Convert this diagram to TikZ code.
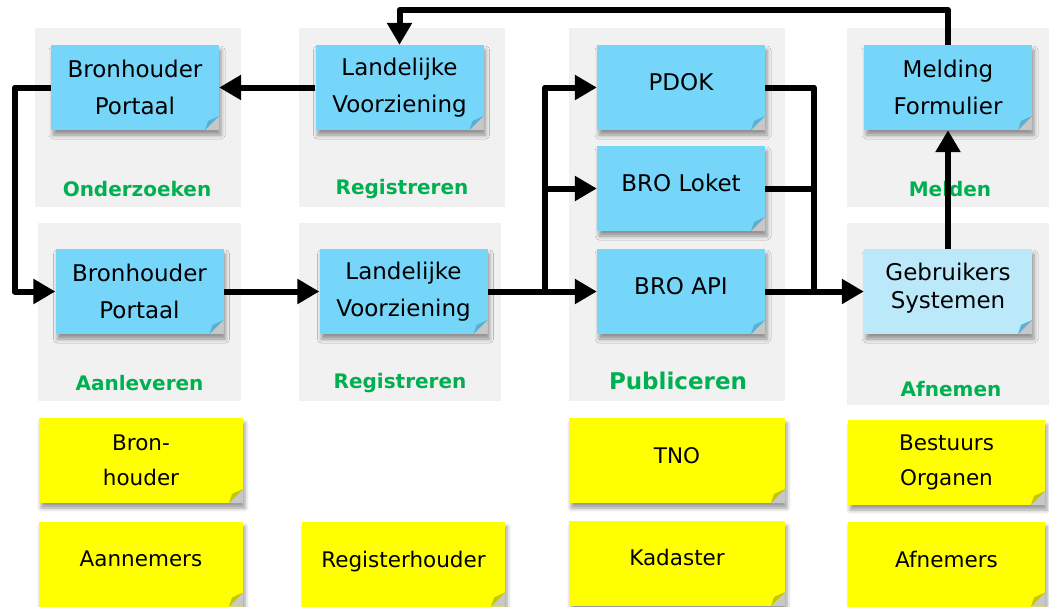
\documentclass[tikz,border=0pt]{standalone}
\usepackage{fontspec}
\setmainfont{DejaVu Sans}
\usetikzlibrary{arrows.meta,shadows.blur}
\definecolor{noteblue}{HTML}{76D6FA}
\definecolor{notelight}{HTML}{BCE9FA}
\definecolor{foldblue}{HTML}{5AAFD2}
\definecolor{noteyellow}{HTML}{FFFF00}
\definecolor{foldyellow}{HTML}{C4C400}
\definecolor{panelgray}{HTML}{F1F1F1}
\definecolor{phasegreen}{HTML}{00B050}

\begin{document}
\begin{tikzpicture}[x=1pt, y=-1pt,
        panel/.style={fill=panelgray, inner sep=0pt},
        dogear/.style={path picture={
            \fill[black!22] ([xshift=-14pt]path picture bounding box.south east)
                -- (path picture bounding box.south east)
                -- ([yshift=14pt]path picture bounding box.south east) -- cycle;
            \fill[#1] ([xshift=-14pt]path picture bounding box.south east)
                -- ([yshift=14pt]path picture bounding box.south east)
                -- ([xshift=-11pt,yshift=9pt]path picture bounding box.south east) -- cycle;}},
        note/.style={minimum width=168pt, minimum height=85pt, inner sep=0pt,
            align=center, fill=noteblue, font=\fontsize{23}{37}\selectfont,
            blur shadow={shadow xshift=2pt, shadow yshift=-5pt, shadow blur radius=4pt,
                shadow opacity=40},
            dogear=foldblue},
        sticky/.style={note, fill=noteyellow, dogear=foldyellow,
            font=\fontsize{21.5}{35}\selectfont},
        phase/.style={text=phasegreen, font=\bfseries\fontsize{20}{24}\selectfont},
        conn/.style={line width=6pt, line join=round},
        >={Triangle[length=22pt,width=24pt]}]

    \useasboundingbox (0,0) rectangle (1049,606);

    \node[panel, minimum width=206pt, minimum height=179pt] (P1) at (138,117.5) {};
    \node[panel, minimum width=206pt, minimum height=179pt] (P2) at (402,117.5) {};
    \node[panel, minimum width=203pt, minimum height=178pt] (P3) at (139.5,312) {};
    \node[panel, minimum width=202pt, minimum height=178pt] (P4) at (400,312) {};
    \node[panel, minimum width=216pt, minimum height=373pt] (P5) at (677,214.5) {};
    \node[panel, minimum width=204pt, minimum height=179pt] (P6) at (949,117.5) {};
    \node[panel, minimum width=204pt, minimum height=182pt] (P7) at (949,314) {};

    \node[phase] (L1) at (137,189) {Onderzoeken};
    \node[phase] (L2) at (402,189) {Registreren};
    \node[phase] (L3) at (139.5,383) {Aanleveren};
    \node[phase] (L4) at (400,383) {Registreren};
    \node[phase, font=\bfseries\fontsize{23}{27}\selectfont] (L5) at (678,381) {Publiceren};
    \node[phase] (L6) at (950,189) {Melden};
    \node[phase] (L7) at (951,389) {Afnemen};

    \node[note] (BP1) at (135,87.5) {Bronhouder\\Portaal};
    \node[note] (LV1) at (399.5,87.5) {Landelijke\\Voorziening};
    \node[note] (BP2) at (139.5,291.5) {Bronhouder\\Portaal};
    \node[note] (LV2) at (403.5,291.5) {Landelijke\\Voorziening};
    \node[note, text depth=12pt] (PD) at (681,87.5) {PDOK};
    \node[note, text depth=12pt] (BL) [below of=PD, node distance=101pt] {BRO Loket};
    \node[note, text depth=12pt] (BA) [below of=BL, node distance=103pt] {BRO API};
    \node[note] (MF) at (948,87.5) {Melding\\Formulier};
    \node[note, fill=notelight, text depth=12pt] (GS) at (948,291.5) {Gebruikers\\[-9pt]Systemen};

    \node[sticky, minimum width=204pt] (Y1) at (141,460.5) {Bron-\\houder};
    \node[sticky, minimum width=216pt, text depth=10pt] (Y2) at (677,460.5) {TNO};
    \node[sticky, minimum width=197pt] (Y3) at (946.5,462.5) {Bestuurs\\Organen};
    \node[sticky, minimum width=204pt, text depth=10pt] (Y4) at (141,564) {Aannemers};
    \node[sticky, minimum width=203pt, text depth=10pt] (Y5) at (403.5,564) {Registerhouder};
    \node[sticky, minimum width=216pt, text depth=12pt] (Y6) at (677,563.5) {Kadaster};
    \node[sticky, minimum width=197pt, text depth=10pt] (Y7) at (946.5,564) {Afnemers};

    \coordinate (sp) at (545,291.5);
    \coordinate (mg) at (814,291.5);

    \draw[conn, ->] (MF.north) -- ++(0,-35) -| (LV1.north);
    \draw[conn, ->] (LV1.west) -- (BP1.east);
    \draw[conn, ->] (BP1.west) -- ++(-36,0) |- (BP2.west);
    \draw[conn, ->] (BP2.east) -- (LV2.west);
    \draw[conn, ->] (LV2.east) -- (BA.west);
    \draw[conn, ->] (sp) |- (PD.west);
    \draw[conn, ->] (sp) |- (BL.west);
    \draw[conn] (PD.east) -| (mg);
    \draw[conn] (BL.east) -- (BL.east -| mg);
    \draw[conn, ->] (BA.east) -- (GS.west);
    \draw[conn, ->] (GS.north) -- (MF.south);
\end{tikzpicture}
\end{document}
